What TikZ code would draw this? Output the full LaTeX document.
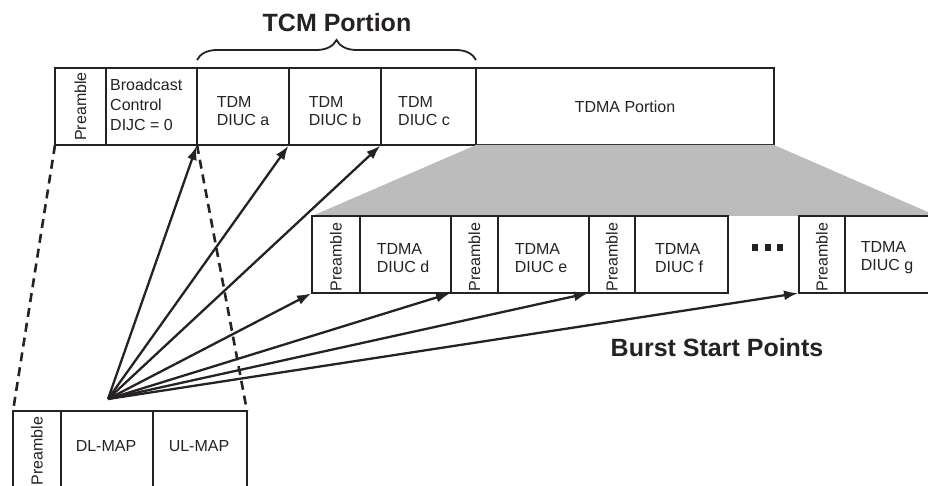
\documentclass[tikz,border=0pt]{standalone}
\usepackage{fontspec}
\setmainfont{Liberation Sans}
\usetikzlibrary{arrows.meta,decorations.pathreplacing}
\definecolor{ink}{RGB}{38,34,34}
\definecolor{dotgray}{RGB}{188,188,188}
\begin{document}
\begin{tikzpicture}[x=1pt,y=-1pt,
  cellbox/.style={draw=ink, line width=2.8pt, fill=white, inner sep=0pt, outer sep=0pt,
    text=ink, font=\fontsize{16}{19}\selectfont, align=left},
  vtext/.style={text=ink, font=\fontsize{16}{19}\selectfont, rotate=90, inner sep=0pt},
  ptr/.style={draw=ink, line width=2.3pt, -{Latex[length=14pt,width=10pt]}, shorten >=1pt},
  dashline/.style={draw=ink, line width=2.6pt, dash pattern=on 9pt off 6pt},
  bigtitle/.style={text=ink, font=\bfseries\fontsize{25}{28}\selectfont, inner sep=0pt}]
\useasboundingbox (0,0) rectangle (928,486);
\clip (0,0) rectangle (928,486);
\fill[white] (0,0) rectangle (928,486);

% top row
\node[cellbox, minimum width=51pt, minimum height=77pt] (tpre) at (80.5,106.5) {};
\node[cellbox, minimum width=91pt, minimum height=77pt] (tbc) at (151.5,106.5) {};
\node[cellbox, minimum width=92pt, minimum height=77pt] (ta) at (243,106.5) {};
\node[cellbox, minimum width=92pt, minimum height=77pt] (tb) at (335,106.5) {};
\node[cellbox, minimum width=95pt, minimum height=77pt] (tc) at (428.5,106.5) {};
\node[cellbox, minimum width=298pt, minimum height=77pt] (tdma) at (625,106.5) {TDMA Portion};

% shaded expansion
\coordinate (sr) at (937,216);
\coordinate (sl) at (312,216);
\fill[dotgray] (tdma.south west) -- (tdma.south east) -- (sr) -- (sl) -- cycle;

% middle row
\node[cellbox, minimum width=48pt, minimum height=77pt] (m1p) at (336,254.5) {};
\node[cellbox, minimum width=91pt, minimum height=77pt] (m1) at (405.5,254.5) {};
\node[cellbox, minimum width=47pt, minimum height=77pt] (m2p) at (474.5,254.5) {};
\node[cellbox, minimum width=91pt, minimum height=77pt] (m2) at (543.5,254.5) {};
\node[cellbox, minimum width=46pt, minimum height=77pt] (m3p) at (612,254.5) {};
\node[cellbox, minimum width=93pt, minimum height=77pt] (m3) at (681.5,254.5) {};
\node[cellbox, minimum width=46pt, minimum height=77pt] (m4p) at (822,254.5) {};
\node[cellbox, minimum width=110pt, minimum height=77pt] (m4) at (900,254.5) {};

% bottom row
\node[cellbox, minimum width=48pt, minimum height=84pt] (bpre) at (37,453) {};
\node[cellbox, minimum width=92pt, minimum height=84pt] (bdl) at (107,453) {};
\node[cellbox, minimum width=94pt, minimum height=84pt] (bul) at (200,453) {};

% texts
\node[vtext] (tpret) at (tpre.center) {Preamble};
\node[text=ink, font=\fontsize{16}{20}\selectfont, align=left, anchor=west, inner sep=0pt] (tbct) at (110,105) {Broadcast\\Control\\DIJC = 0};
\node[text=ink, font=\fontsize{16}{18}\selectfont, align=left, inner sep=0pt] (tat) at (243,111) {TDM\\DIUC a};
\node[text=ink, font=\fontsize{16}{18}\selectfont, align=left, inner sep=0pt] (tbt) at (335,111) {TDM\\DIUC b};
\node[text=ink, font=\fontsize{16}{18}\selectfont, align=left, inner sep=0pt] (tct) at (424,111) {TDM\\DIUC c};

\node[vtext] (m1pt) at (336,257) {Preamble};
\node[vtext] (m2pt) at (474.5,257) {Preamble};
\node[vtext] (m3pt) at (612,257) {Preamble};
\node[vtext] (m4pt) at (822,257) {Preamble};
\node[text=ink, font=\fontsize{16}{18}\selectfont, align=left, inner sep=0pt] (m1t) at (403,258) {TDMA\\DIUC d};
\node[text=ink, font=\fontsize{16}{18}\selectfont, align=left, inner sep=0pt] (m2t) at (541,258) {TDMA\\DIUC e};
\node[text=ink, font=\fontsize{16}{18}\selectfont, align=left, inner sep=0pt] (m3t) at (679,258) {TDMA\\DIUC f};
\node[text=ink, font=\fontsize{16}{18}\selectfont, align=left, inner sep=0pt] (m4t) at (887,258) {TDMA\\DIUC g};

\node[vtext] (bpret) at (37,451) {Preamble};
\node[text=ink, font=\fontsize{16}{19}\selectfont, inner sep=0pt] (bdlt) at (106,446) {DL-MAP};
\node[text=ink, font=\fontsize{16}{19}\selectfont, inner sep=0pt] (bult) at (199,446) {UL-MAP};

% ellipsis squares
\fill[ink] (752,244) rectangle (758,251);
\fill[ink] (764.5,244) rectangle (770.5,251);
\fill[ink] (777,244) rectangle (783,251);

% brace and titles
\coordinate (bl) at (197,60);
\coordinate (br) at (476,60);
\draw[ink, line width=1.8pt, decorate, decoration={brace, amplitude=20pt}] (bl) -- (br);
\node[bigtitle] (tcm) at (337,23) {TCM Portion};
\node[bigtitle] (bsp) at (717,348) {Burst Start Points};

% dashed zoom lines
\draw[dashline] (tpre.south west) -- (bpre.north west);
\draw[dashline] (tbc.south east) -- (bul.north east);

% arrows
\coordinate (o) at (108,399);
\draw[ptr] (o) -- (ta.south west);
\draw[ptr] (o) -- (tb.south west);
\draw[ptr] (o) -- (tc.south west);
\draw[ptr] (o) -- (m1p.south west);
\draw[ptr] (o) -- (m2p.south west);
\draw[ptr] (o) -- (m3p.south west);
\draw[ptr] (o) -- (m4p.south west);
\end{tikzpicture}
\end{document}
